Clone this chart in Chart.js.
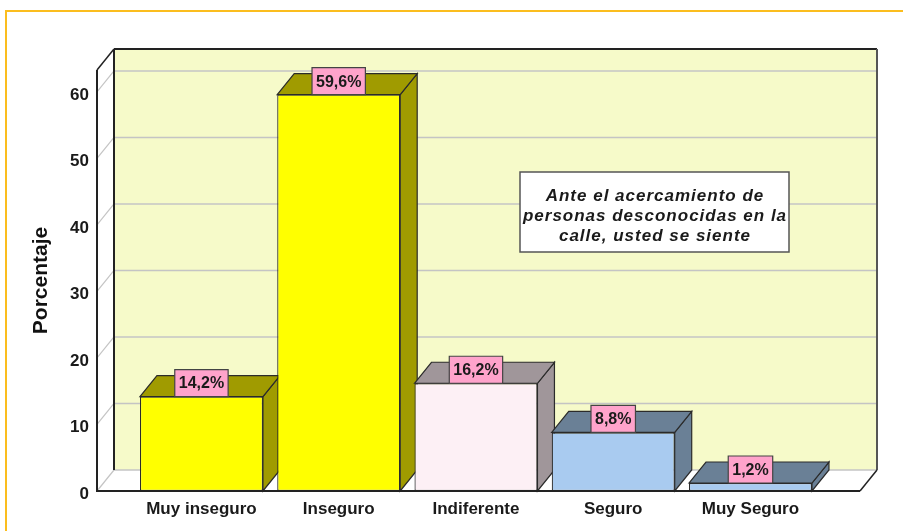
<!DOCTYPE html>
<html>
<head>
<meta charset="utf-8">
<script src="https://cdn.jsdelivr.net/npm/chart.js@4.4.1/dist/chart.umd.min.js"></script>
<style>
  html, body { margin: 0; padding: 0; background: #fff; }
  #wrap { width: 903px; height: 531px; }
</style>
</head>
<body>
<div id="wrap"><canvas id="grafico" width="903" height="531"></canvas></div>
<script>
// Datos del gráfico
const categorias = ["Muy inseguro", "Inseguro", "Indiferente", "Seguro", "Muy Seguro"];
const porcentajes = [14.2, 59.6, 16.2, 8.8, 1.2];
const etiquetas = ["14,2%", "59,6%", "16,2%", "8,8%", "1,2%"];
const ticksY = [0, 10, 20, 30, 40, 50, 60];
const notaLineas = ["Ante el acercamiento de", "personas desconocidas en la", "calle, usted se siente"];

// Colores (cara frontal y caras superior/lateral)
const colorFrente = ["#ffff00", "#ffff00", "#fdf0f5", "#a9cbf0", "#a9cbf0"];
const colorLado = ["#a09b00", "#a09b00", "#a0969a", "#6a8096", "#6a8096"];

const FUENTE = "'Liberation Sans', Arial, sans-serif";
const PROF_X = 17, PROF_Y = -21; // profundidad del efecto 3D

Chart.defaults.font.family = FUENTE;

function poligono(ctx, pts, relleno, trazo, ancho) {
  ctx.beginPath();
  ctx.moveTo(pts[0][0], pts[0][1]);
  for (let i = 1; i < pts.length; i++) ctx.lineTo(pts[i][0], pts[i][1]);
  ctx.closePath();
  if (relleno) { ctx.fillStyle = relleno; ctx.fill(); }
  if (trazo) { ctx.strokeStyle = trazo; ctx.lineWidth = ancho || 1; ctx.stroke(); }
}

function linea(ctx, x1, y1, x2, y2, color, ancho) {
  ctx.beginPath();
  ctx.moveTo(x1, y1);
  ctx.lineTo(x2, y2);
  ctx.strokeStyle = color;
  ctx.lineWidth = ancho;
  ctx.stroke();
}

// Plugin: paredes, piso, grilla y caras 3D de las barras
const efecto3D = {
  id: "efecto3D",
  beforeDatasetsDraw(chart) {
    const { ctx, chartArea: a, scales: { y } } = chart;
    const L = a.left, R = a.right, T = a.top, B = a.bottom;
    ctx.save();

    // marco naranja
    ctx.strokeStyle = "#fbbd1e";
    ctx.lineWidth = 2;
    ctx.beginPath();
    ctx.moveTo(6, chart.height);
    ctx.lineTo(6, 11);
    ctx.lineTo(chart.width, 11);
    ctx.stroke();

    // pared del fondo
    poligono(ctx, [[L + PROF_X, T + PROF_Y], [R + PROF_X, T + PROF_Y], [R + PROF_X, B + PROF_Y], [L + PROF_X, B + PROF_Y]], "#f6fac9");
    // pared izquierda y piso
    poligono(ctx, [[L, T], [L + PROF_X, T + PROF_Y], [L + PROF_X, B + PROF_Y], [L, B]], "#ffffff");
    poligono(ctx, [[L, B], [L + PROF_X, B + PROF_Y], [R + PROF_X, B + PROF_Y], [R, B]], "#ffffff");

    // grilla
    ticksY.forEach(v => {
      const py = y.getPixelForValue(v);
      linea(ctx, L, py, L + PROF_X, py + PROF_Y, "#c4c4c4", 1.2);
      linea(ctx, L + PROF_X, py + PROF_Y, R + PROF_X, py + PROF_Y, "#c4c4c4", 1.5);
    });

    // bordes de paredes
    linea(ctx, L + PROF_X, T + PROF_Y, R + PROF_X, T + PROF_Y, "#222", 2);
    linea(ctx, L + PROF_X, T + PROF_Y, L + PROF_X, B + PROF_Y, "#222", 2);
    linea(ctx, R + PROF_X, T + PROF_Y, R + PROF_X, B + PROF_Y, "#555", 2);
    linea(ctx, L, T, L + PROF_X, T + PROF_Y, "#222", 1.5);
    linea(ctx, R, B, R + PROF_X, B + PROF_Y, "#222", 1.5);

    // caras superior y lateral de cada barra
    const meta = chart.getDatasetMeta(0);
    meta.data.forEach((bar, i) => {
      const { x, y: top, base, width } = bar.getProps(["x", "y", "base", "width"], true);
      const x1 = x - width / 2, x2 = x + width / 2;
      poligono(ctx, [[x2, top], [x2 + PROF_X, top + PROF_Y], [x2 + PROF_X, base + PROF_Y], [x2, base]], colorLado[i], "#2b2b2b", 1.2);
      poligono(ctx, [[x1, top], [x1 + PROF_X, top + PROF_Y], [x2 + PROF_X, top + PROF_Y], [x2, top]], colorLado[i], "#2b2b2b", 1.2);
    });
    ctx.restore();
  },
  afterDatasetsDraw(chart) {
    const { ctx, chartArea: a } = chart;
    ctx.save();
    // ejes frontales
    linea(ctx, a.left, a.top, a.left, a.bottom + 1, "#222", 2);
    linea(ctx, a.left, a.bottom, a.right, a.bottom, "#222", 2);

    // etiquetas de valor
    ctx.font = "bold 16px " + FUENTE;
    ctx.textAlign = "center";
    ctx.textBaseline = "middle";
    const meta = chart.getDatasetMeta(0);
    meta.data.forEach((bar, i) => {
      const { x, y: top } = bar.getProps(["x", "y"], true);
      const w = ctx.measureText(etiquetas[i]).width + 8;
      const h = 27;
      poligono(ctx, [[x - w / 2, top - h], [x + w / 2, top - h], [x + w / 2, top], [x - w / 2, top]], "#ffa3cb", "#444", 1.2);
      ctx.fillStyle = "#1a1a1a";
      ctx.fillText(etiquetas[i], x, top - h / 2 + 1);
    });

    // cuadro de nota
    poligono(ctx, [[520, 172], [789, 172], [789, 252], [520, 252]], "#ffffff", "#555", 1.5);
    ctx.font = "italic bold 17px " + FUENTE;
    ctx.letterSpacing = "1px";
    ctx.textBaseline = "alphabetic";
    ctx.fillStyle = "#1a1a1a";
    notaLineas.forEach((t, i) => ctx.fillText(t, 655, 201 + i * 20));
    ctx.restore();
  }
};

new Chart(document.getElementById("grafico"), {
  type: "bar",
  data: {
    datasets: [{
      label: "Porcentaje",
      data: categorias.map((c, i) => ({ x: i, y: porcentajes[i] })),
      backgroundColor: colorFrente,
      borderColor: "#2b2b2b",
      borderWidth: 1.2,
      borderSkipped: false,
      categoryPercentage: 1,
      barPercentage: 0.896
    }]
  },
  options: {
    responsive: false,
    animation: false,
    devicePixelRatio: 1,
    layout: { padding: { left: 0, top: 70, right: 43, bottom: 0 } },
    plugins: { legend: { display: false }, tooltip: { enabled: false } },
    scales: {
      x: {
        type: "linear",
        min: -0.761,
        max: 4.798,
        offset: false,
        grid: { display: false, drawTicks: false, offset: false },
        border: { display: false },
        afterBuildTicks: s => { s.ticks = categorias.map((c, i) => ({ value: i })); },
        afterFit: s => { s.height = 40; },
        ticks: {
          callback: v => categorias[v],
          autoSkip: false,
          maxRotation: 0,
          padding: 8,
          color: "#1a1a1a",
          font: { size: 17, weight: "bold" }
        }
      },
      y: {
        min: 0,
        max: 63.3,
        grid: { display: false, drawTicks: false },
        border: { display: false },
        afterBuildTicks: s => { s.ticks = ticksY.map(v => ({ value: v })); },
        afterFit: s => { s.width = 97; },
        ticks: {
          padding: 8,
          labelOffset: 3,
          color: "#1a1a1a",
          font: { size: 17, weight: "bold" }
        },
        title: {
          display: true,
          text: "Porcentaje",
          color: "#111",
          padding: { top: 29, bottom: 0 },
          font: { size: 21, weight: "bold" }
        }
      }
    }
  },
  plugins: [efecto3D]
});
</script>
</body>
</html>
